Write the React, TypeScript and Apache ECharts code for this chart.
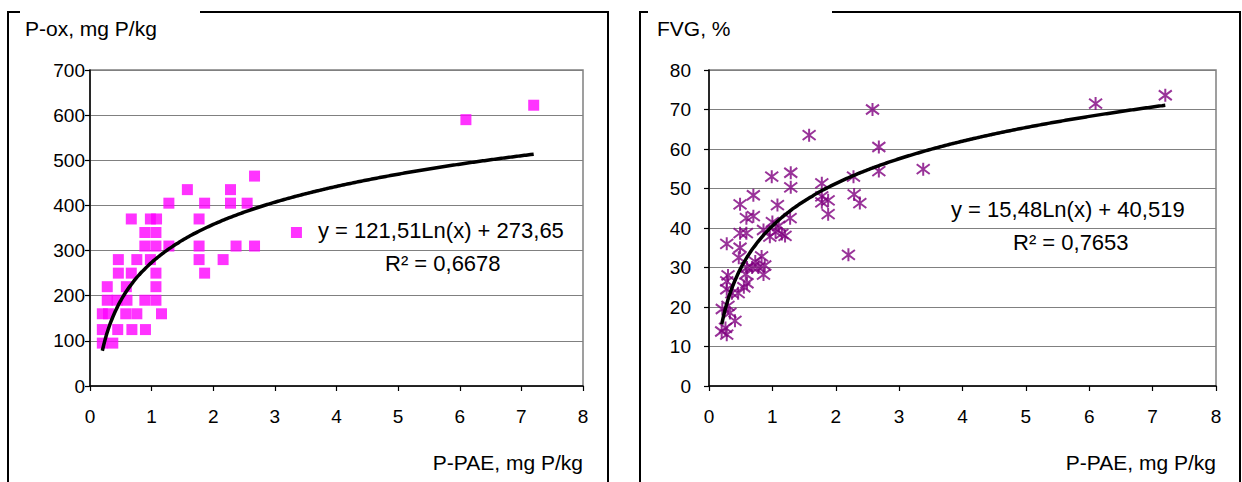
import React, { useEffect, useRef } from "react";
import * as echarts from "echarts";

// ---------- data ----------
const xTickValues = [0, 1, 2, 3, 4, 5, 6, 7, 8];
const poxTicks = [0, 100, 200, 300, 400, 500, 600, 700];
const fvgTicks = [0, 10, 20, 30, 40, 50, 60, 70, 80];

// P-PAE (mg P/kg) vs P-ox (mg P/kg)
const poxPoints: [number, number][] = [
  [0.2, 95], [0.37, 95],
  [0.2, 125], [0.45, 125], [0.68, 125], [0.9, 125],
  [0.2, 160], [0.3, 160], [0.58, 160], [0.76, 160], [1.16, 160],
  [0.28, 190], [0.44, 190], [0.6, 190], [0.89, 190], [1.07, 190],
  [0.28, 220], [0.59, 220], [1.07, 220],
  [0.46, 250], [0.67, 250], [1.07, 250], [1.86, 250],
  [0.46, 280], [0.76, 280], [0.98, 280], [1.77, 280], [2.16, 280],
  [0.89, 310], [1.07, 310], [1.28, 310], [1.77, 310], [2.37, 310], [2.67, 310],
  [0.89, 340], [1.07, 340], [3.35, 340],
  [0.67, 370], [0.98, 370], [1.08, 370], [1.77, 370],
  [1.28, 405], [1.86, 405], [2.28, 405], [2.55, 405],
  [1.58, 435], [2.28, 435],
  [2.67, 465],
  [6.1, 590], [7.2, 622],
];

// P-PAE (mg P/kg) vs FVG (%)
const fvgPoints: [number, number][] = [
  [0.2, 13.8], [0.28, 13], [0.26, 14.7], [0.21, 19.5], [0.3, 20.3], [0.33, 18.5], [0.41, 16.5],
  [0.28, 24.5], [0.36, 23.5], [0.46, 23.5], [0.55, 25], [0.6, 26], [0.58, 28.3], [0.3, 28], [0.28, 26.5],
  [0.6, 30], [0.68, 30], [0.78, 30], [0.73, 31.5], [0.88, 30.5], [0.86, 28.2], [0.83, 32.8], [0.47, 32.5],
  [0.49, 35], [0.28, 36], [0.49, 38.7], [0.59, 38.7], [0.86, 39.5], [0.96, 37.8], [1.1, 40.5],
  [1.05, 39], [1.15, 38.5], [1.2, 38], [1.0, 41.5],
  [0.59, 42.5], [0.7, 43], [1.28, 42.5], [1.08, 45.8], [0.49, 46], [0.7, 48.3],
  [0.99, 53], [1.29, 54], [1.29, 50.3], [1.58, 63.5],
  [1.78, 51.3], [1.78, 46.5], [1.88, 47], [1.88, 43.5], [1.78, 48],
  [2.2, 33.2], [2.28, 53], [2.29, 48.5], [2.38, 46.3],
  [2.58, 70], [2.68, 60.5], [2.68, 54.4], [3.38, 54.9],
  [6.1, 71.5], [7.2, 73.6],
];

// logarithmic trendlines as printed on the chart: y = a*Ln(x) + b
const poxTrendCoef = { a: 121.51, b: 273.65 };
const fvgTrendCoef = { a: 15.48, b: 40.519 };
const trendRange = [0.2, 7.2];

const poxEquation = "y = 121,51Ln(x) + 273,65";
const poxR2 = "R² = 0,6678";
const fvgEquation = "y = 15,48Ln(x) + 40,519";
const fvgR2 = "R² = 0,7653";

const poxTitle = "P-ox, mg P/kg";
const fvgTitle = "FVG, %";
const xTitle = "P-PAE, mg P/kg";

function trend(c: { a: number; b: number }): [number, number][] {
  const pts: [number, number][] = [];
  for (let x = trendRange[0]; x <= trendRange[1] + 1e-9; x += 0.05) {
    pts.push([x, c.a * Math.log(x) + c.b]);
  }
  return pts;
}

const FONT = "Liberation Sans, Arial, sans-serif";
const ASTERISK = "path://M6,0 L6,12 M1,1.5 L11,10.5 M1,10.5 L11,1.5";

export default function App() {
  const ref = useRef<HTMLDivElement>(null);
  useEffect(() => {
    document.body.style.margin = "0";
    const chart = echarts.init(ref.current!, undefined, { renderer: "svg" });

    const axisX = (gridIndex: number) => ({
      type: "value" as const,
      gridIndex,
      min: 0,
      max: 8,
      interval: 1,
      axisLine: { show: true, onZero: false, lineStyle: { color: "#000", width: 1.5 } },
      axisTick: { show: true, inside: false, length: 5, lineStyle: { color: "#000", width: 1.2 } },
      axisLabel: { color: "#000", fontSize: 19, fontFamily: FONT, margin: 21, formatter: (v: number) => (xTickValues.includes(v) ? String(v) : "") },
      splitLine: { show: false },
    });
    const axisY = (gridIndex: number, ticks: number[], margin: number) => ({
      type: "value" as const,
      gridIndex,
      min: ticks[0],
      max: ticks[ticks.length - 1],
      interval: ticks[1] - ticks[0],
      axisLine: { show: true, lineStyle: { color: "#000", width: 1.5 } },
      axisTick: { show: true, inside: false, length: 5, lineStyle: { color: "#000", width: 1.2 } },
      axisLabel: { color: "#000", fontSize: 19, fontFamily: FONT, margin },
      splitLine: { show: true, lineStyle: { color: "#808080", width: 1.2 } },
    });

    const frameStyle = { stroke: "#000", lineWidth: 2, fill: "none" };
    const text = (x: number, y: number, t: string, size: number, align: string = "left") => ({
      type: "text",
      x,
      y,
      style: { text: t, fill: "#000", font: `${size}px ${FONT}`, align, verticalAlign: "middle" },
    });

    chart.setOption({
      animation: false,
      backgroundColor: "#fff",
      grid: [
        { left: 90, top: 70, width: 493, height: 316, show: true, borderColor: "#808080", borderWidth: 1.5, backgroundColor: "transparent" },
        { left: 709, top: 70, width: 507, height: 316, show: true, borderColor: "#808080", borderWidth: 1.5, backgroundColor: "transparent" },
      ],
      xAxis: [axisX(0), axisX(1)],
      yAxis: [axisY(0, poxTicks, 5), axisY(1, fvgTicks, 18)],
      series: [
        {
          type: "scatter",
          xAxisIndex: 0,
          yAxisIndex: 0,
          data: poxPoints,
          symbol: "rect",
          symbolSize: 11,
          itemStyle: { color: "#FF00FF" },
          z: 2,
        },
        {
          type: "line",
          xAxisIndex: 0,
          yAxisIndex: 0,
          data: trend(poxTrendCoef),
          showSymbol: false,
          smooth: true,
          lineStyle: { color: "#000", width: 3.5 },
          z: 3,
        },
        {
          type: "scatter",
          xAxisIndex: 1,
          yAxisIndex: 1,
          data: fvgPoints,
          symbol: ASTERISK,
          symbolSize: 13,
          itemStyle: { color: "rgba(0,0,0,0)", borderColor: "#800080", borderWidth: 2 },
          z: 2,
        },
        {
          type: "line",
          xAxisIndex: 1,
          yAxisIndex: 1,
          data: trend(fvgTrendCoef),
          showSymbol: false,
          smooth: true,
          lineStyle: { color: "#000", width: 3.5 },
          z: 3,
        },
      ],
      graphic: [
        { type: "polyline", shape: { points: [[20, 12], [8, 12], [8, 482]] }, style: frameStyle },
        { type: "polyline", shape: { points: [[200, 12], [608, 12], [608, 482]] }, style: frameStyle },
        { type: "polyline", shape: { points: [[648, 12], [640, 12], [640, 482]] }, style: frameStyle },
        { type: "polyline", shape: { points: [[832, 12], [1240, 12], [1240, 482]] }, style: frameStyle },
        text(25, 28, poxTitle, 21),
        text(657, 28, fvgTitle, 21),
        text(583, 462, xTitle, 21, "right"),
        text(1216, 462, xTitle, 21, "right"),
        text(318, 230, poxEquation, 22),
        text(385, 263, poxR2, 22),
        text(951, 209, fvgEquation, 22),
        text(1013, 242, fvgR2, 22),
      ],
    });
    return () => chart.dispose();
  }, []);
  return <div ref={ref} style={{ width: 1242, height: 482, position: "absolute", left: 0, top: 0 }} />;
}
